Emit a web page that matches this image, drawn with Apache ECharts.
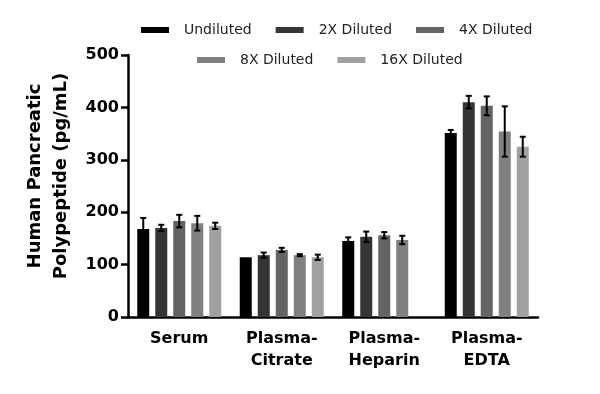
<!DOCTYPE html>
<html>
<head>
<meta charset="utf-8">
<script src="https://cdn.jsdelivr.net/npm/echarts@6/dist/echarts.min.js"></script>
<style>html,body{margin:0;padding:0;background:#fff}#c{width:600px;height:394px}</style>
</head>
<body>
<div id="c"></div>
<script>
var categories = ['Serum', 'Plasma-\nCitrate', 'Plasma-\nHeparin', 'Plasma-\nEDTA'];
var seriesNames = ['Undiluted', '2X Diluted', '4X Diluted', '8X Diluted', '16X Diluted'];
var undiluted = [168, 114, 145, 351];
var diluted2X = [170, 118, 153, 410];
var diluted4X = [183, 128, 156, 403];
var diluted8X = [179, 118, 147, 354];
var diluted16X = [174, 114, null, 325];
var sdUndiluted = [21, 0, 7, 6];
var sd2X = [6, 5, 10, 12];
var sd4X = [12, 4, 6, 18];
var sd8X = [14, 2, 8, 48];
var sd16X = [6, 5, null, 19];
var yTicks = [0, 100, 200, 300, 400, 500];

var means = [undiluted, diluted2X, diluted4X, diluted8X, diluted16X];
var sds = [sdUndiluted, sd2X, sd4X, sd8X, sd16X];
var colors = ['#000000', '#353535', '#646464', '#808080', '#a0a0a2'];
var FONT = 'DejaVu Sans';
var BAR_W = 12;

var series = [];
means.forEach(function (m, i) {
  series.push({
    name: seriesNames[i], type: 'bar', data: m, barWidth: BAR_W, barGap: '50%',
    itemStyle: { color: colors[i] }, z: 2
  });
});
means.forEach(function (m, i) {
  var data = m.map(function (v, k) { return v == null ? null : [k, v, sds[i][k]]; }).filter(function(d){return d;});
  series.push({
    name: 'err' + i, type: 'custom', z: 5,
    data: data,
    renderItem: function (params, api) {
      var k = api.value(0), v = api.value(1), s = api.value(2);
      var c = api.coord([k, v]);
      var off = (i - 2) * BAR_W * 1.5;
      var x = c[0] + off;
      var top = api.coord([k, v + s])[1];
      var bot = api.coord([k, v - s])[1];
      var cap = 3;
      var st = { stroke: '#000', lineWidth: 2 };
      if (!s) return null;
      return { type: 'group', children: [
        { type: 'line', shape: { x1: x, y1: top, x2: x, y2: bot }, style: st },
        { type: 'line', shape: { x1: x - cap, y1: top, x2: x + cap, y2: top }, style: st },
        { type: 'line', shape: { x1: x - cap, y1: bot, x2: x + cap, y2: bot }, style: st }
      ]};
    }
  });
});

var chart = echarts.init(document.getElementById('c'), null, { renderer: 'canvas' });
var legendCommon = {
  icon: 'rect', itemWidth: 28, itemHeight: 6, itemGap: 24, orient: 'horizontal', padding: 0,
  textStyle: { fontFamily: FONT, fontSize: 14, color: '#222', padding: [0, 0, 0, 10] }
};
chart.setOption({
  animation: false,
  backgroundColor: '#fff',
  legend: [
    Object.assign({}, legendCommon, { data: seriesNames.slice(0, 3), left: 141, top: 23 }),
    Object.assign({}, legendCommon, { data: seriesNames.slice(3), left: 197, top: 53 })
  ],
  grid: { left: 128, right: 62, top: 55, bottom: 77, containLabel: false },
  xAxis: {
    type: 'category', data: categories,
    axisLine: { lineStyle: { color: '#000', width: 2.5 } },
    axisTick: { alignWithLabel: true, length: 6, lineStyle: { color: '#000', width: 2.5 } },
    axisLabel: { color: '#000', fontFamily: FONT, fontSize: 16, fontWeight: 'bold', margin: 11, lineHeight: 22 }
  },
  yAxis: {
    type: 'value', min: yTicks[0], max: yTicks[yTicks.length - 1], interval: 100,
    name: 'Human Pancreatic\nPolypeptide (pg/mL)', nameLocation: 'middle', nameGap: 53, nameRotate: 90,
    nameTextStyle: { color: '#000', fontFamily: FONT, fontSize: 18, fontWeight: 'bold', lineHeight: 26, padding: [0, 0, 0, 20] },
    axisLine: { show: true, lineStyle: { color: '#000', width: 2.5 } },
    axisTick: { show: true, length: 7, lineStyle: { color: '#000', width: 2.5 } },
    axisLabel: { color: '#000', fontFamily: FONT, fontSize: 16, fontWeight: 'bold', margin: 9 },
    splitLine: { show: false }
  },
  series: series
});
</script>
</body>
</html>
